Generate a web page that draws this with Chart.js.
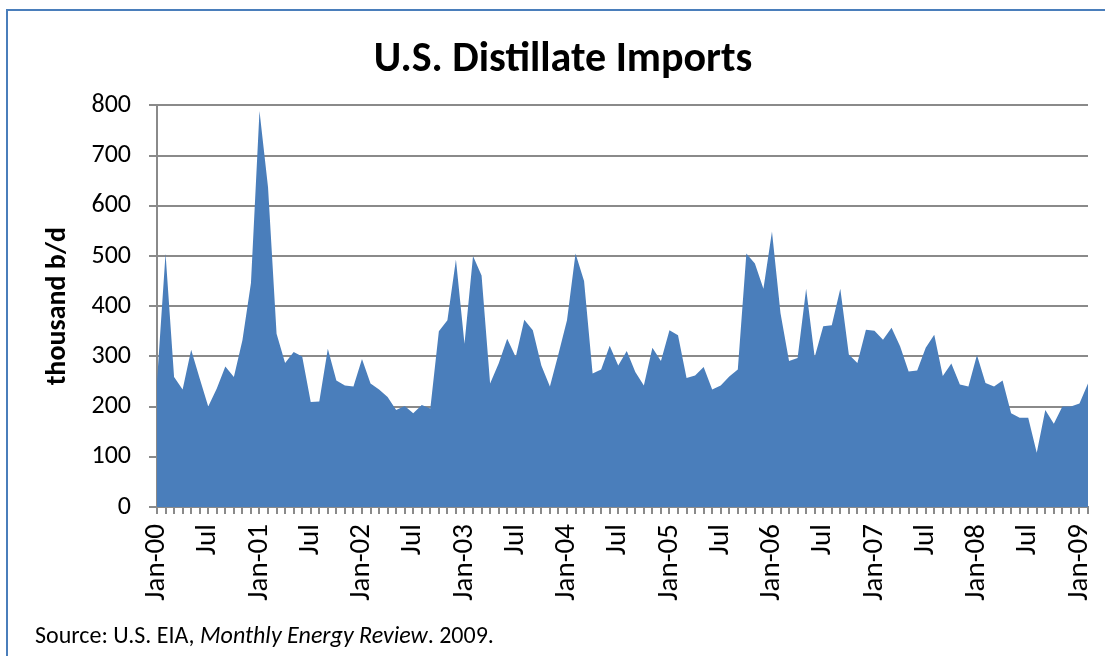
<!DOCTYPE html>
<html>
<head>
<meta charset="utf-8">
<script src="https://cdn.jsdelivr.net/npm/chart.js@4"></script>
<style>
body { margin: 0; background: #fff; }
#frame { position: absolute; left: 6px; top: 9px; width: 1130px; height: 700px; border: 2px solid #4a7ebb; }
#box { position: absolute; left: 0; top: 0; width: 1105px; height: 656px; }
#src { position: absolute; left: 35px; top: 620px; font-family: Carlito, Calibri, Lato, sans-serif; font-size: 24px; color: #000; }
</style>
</head>
<body>
<div id="frame"></div>
<div id="box"><canvas id="MainChart"></canvas></div>
<div id="src">Source: U.S. EIA, <i>Monthly Energy Review</i>. 2009.</div>
<script>
// monthly, Jan-00 .. Feb-09, thousand b/d
var years = ['00', '01', '02', '03', '04', '05', '06', '07', '08', '09'];
var monthNames = ['Jan', 'Feb', 'Mar', 'Apr', 'May', 'Jun', 'Jul', 'Aug', 'Sep', 'Oct', 'Nov', 'Dec'];

var imports2000 = [250, 505, 259, 234, 313, 256, 200, 236, 280, 259, 332, 446];
var imports2001 = [789, 637, 345, 287, 309, 300, 209, 210, 315, 252, 242, 240];
var imports2002 = [295, 246, 234, 219, 193, 201, 187, 203, 196, 350, 372, 493];
var imports2003 = [325, 500, 461, 246, 286, 335, 299, 373, 352, 282, 240, 305];
var imports2004 = [372, 505, 450, 266, 274, 321, 282, 311, 269, 242, 317, 291];
var imports2005 = [352, 342, 257, 262, 279, 234, 242, 260, 274, 505, 485, 435];
var imports2006 = [549, 386, 291, 297, 435, 299, 360, 362, 435, 304, 287, 353];
var imports2007 = [351, 333, 357, 320, 270, 272, 317, 343, 261, 286, 244, 240];
var imports2008 = [303, 247, 240, 252, 187, 178, 178, 108, 193, 166, 200, 200];
var imports2009 = [206, 246];

var yTicks = [0, 100, 200, 300, 400, 500, 600, 700, 800];

var values = [].concat(imports2000, imports2001, imports2002, imports2003, imports2004,
    imports2005, imports2006, imports2007, imports2008, imports2009);

var categories = [];
for (var i = 0; i < values.length; i++) {
    categories.push(monthNames[i % 12] + '-' + years[Math.floor(i / 12)]);
}

var fontFam = 'Carlito, Calibri, Lato, sans-serif';
var gridGray = '#8a8a8a';

var ctx = document.getElementById('MainChart').getContext('2d');
var MainChart = new Chart(ctx, {
    type: 'line',
    data: {
        labels: categories,
        datasets: [{
            label: 'Distillate imports',
            data: values,
            fill: 'origin',
            backgroundColor: '#4a7ebb',
            borderWidth: 0,
            pointRadius: 0,
            tension: 0
        }]
    },
    options: {
        responsive: true,
        maintainAspectRatio: false,
        animation: false,
        layout: { padding: { left: 38, right: 17, top: 0, bottom: 49 } },
        plugins: {
            legend: { display: false },
            tooltip: { enabled: false },
            title: {
                display: true,
                text: 'U.S. Distillate Imports',
                color: '#000',
                font: { family: fontFam, size: 42, weight: 'bold', lineHeight: 1.2 },
                padding: { top: 35, bottom: 20 }
            }
        },
        scales: {
            x: {
                offset: false,
                grid: { drawOnChartArea: false, drawTicks: true, tickLength: 7, color: gridGray, lineWidth: 2 },
                border: { display: true, color: gridGray, width: 2 },
                ticks: {
                    autoSkip: false,
                    minRotation: 90,
                    maxRotation: 90,
                    padding: 10,
                    color: '#000',
                    font: { family: fontFam, size: 29 },
                    callback: function (val, idx) {
                        if (idx % 12 === 0) return this.getLabelForValue(val);
                        if (idx % 12 === 6) return 'Jul';
                        return '';
                    }
                },
                afterFit: function (scale) {
                    scale.height = 100;
                    scale.paddingLeft = 0;
                    scale.paddingRight = 0;
                }
            },
            y: {
                min: 0,
                max: 800,
                afterBuildTicks: function (scale) {
                    scale.ticks = yTicks.map(function (v) { return { value: v }; });
                },
                grid: { color: gridGray, lineWidth: 2, drawTicks: true, tickLength: 8 },
                border: { display: true, color: gridGray, width: 2 },
                ticks: { padding: 18, color: '#000', font: { family: fontFam, size: 26 } },
                title: {
                    display: true,
                    text: 'thousand b/d',
                    color: '#000',
                    font: { family: fontFam, size: 28, weight: 'bold', lineHeight: 1.2 },
                    padding: { top: 3, bottom: 0 }
                },
                afterFit: function (scale) { scale.width = 119; }
            }
        }
    }
});
</script>
</body>
</html>
